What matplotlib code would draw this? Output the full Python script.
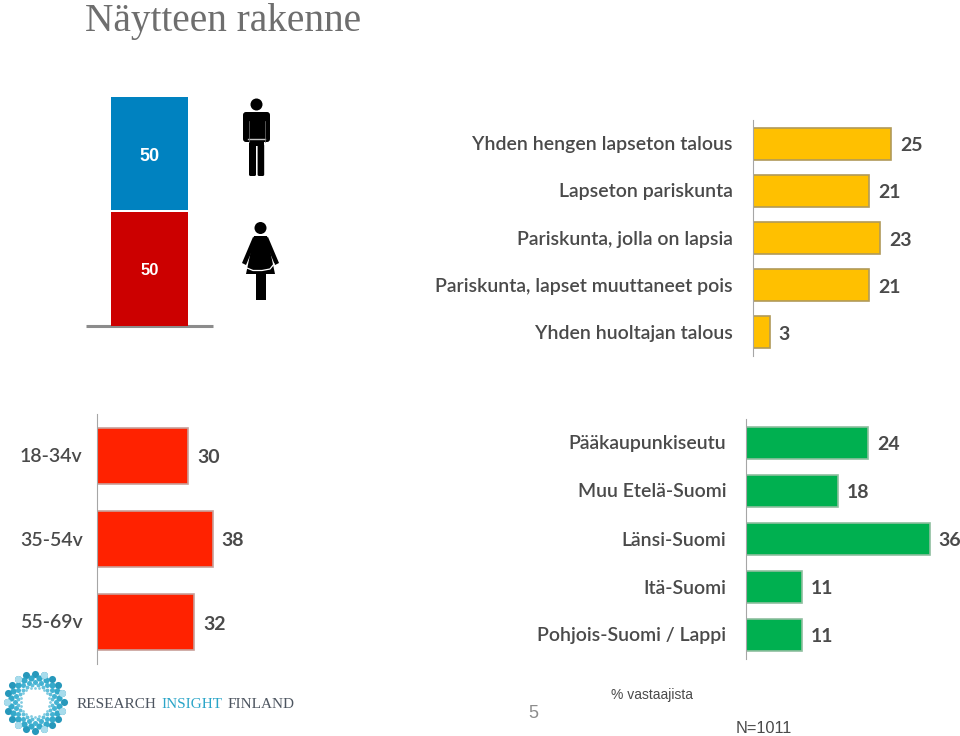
#!/usr/bin/python3
# -*- coding: utf-8 -*-
import numpy as np
import matplotlib
matplotlib.use('Agg')
import matplotlib.pyplot as plt
from matplotlib.patches import Circle, FancyBboxPatch, Polygon, Rectangle

gender_labels = ['Mies', 'Nainen']
gender_values = [50, 50]

household_labels = ['Yhden hengen lapseton talous', 'Lapseton pariskunta', 'Pariskunta, jolla on lapsia',
                    'Pariskunta, lapset muuttaneet pois', 'Yhden huoltajan talous']
household_values = [25, 21, 23, 21, 3]

age_labels = ['18-34v', '35-54v', '55-69v']
age_values = [30, 38, 32]

region_labels = ['Pääkaupunkiseutu', 'Muu Etelä-Suomi', 'Länsi-Suomi', 'Itä-Suomi', 'Pohjois-Suomi / Lappi']
region_values = [24, 18, 36, 11, 11]

W, H = 960, 736
TXT = '#4a4a4a'
FONT = 'Lato'

fig = plt.figure(figsize=(W/100, H/100), dpi=100)

def pixel_axes(x0, y0, x1, y1):
    # box given in picture pixels, y going down
    ax = fig.add_axes([x0/W, 1-y1/H, (x1-x0)/W, (y1-y0)/H])
    ax.patch.set_alpha(0)
    return ax

# overlay for everything that is not a chart
bg = pixel_axes(0, 0, W, H)
bg.set_xlim(0, W)
bg.set_ylim(H, 0)
bg.axis('off')

def hbar_panel(box, xmax, values, labels, color, edge, height, fs=14):
    ax = pixel_axes(*box)
    pos = np.arange(len(values))
    ax.barh(pos, values, height=height, color=color, edgecolor=edge, linewidth=1.2)
    ax.set_xlim(0, xmax)
    ax.set_ylim(len(values)-0.5, -0.5)
    for s in ['top', 'right', 'bottom']:
        ax.spines[s].set_visible(False)
    ax.spines['left'].set_color('#a6a6a6')
    ax.set_xticks([])
    ax.set_yticks([])
    for i, v in enumerate(values):
        ax.annotate(str(v), (v, i), xytext=(9, -2), textcoords='offset pixels', va='center', ha='left',
                    fontsize=fs, fontweight='bold', color=TXT, family=FONT)
    for i, lab in enumerate(labels):
        ax.annotate(lab, (0, i), xytext=(-20, -1), textcoords='offset pixels', va='center', ha='right',
                    fontsize=fs, fontweight='semibold', color=TXT, family=FONT, annotation_clip=False)
    return ax

# households: 47.2 px per row, 5.52 px per unit
hbar_panel((753, 120, 753+5.52*30, 356), 30, household_values, household_labels, '#ffc000', '#b09a5a', 0.68)
# age groups: 83.5 px per row, 3.04 px per unit
hbar_panel((97, 414, 97+3.04*40, 664), 40, age_values, [], '#ff2200', '#c8a09a', 0.67)
for lab, y in zip(age_labels, [455, 539, 622]):
    bg.text(20, y + 1, lab, va='center', ha='left', fontsize=14, fontweight='semibold', color=TXT, family=FONT)
# regions: 48 px per row
hbar_panel((746, 419, 746+5.1*42, 659), 42, region_values, region_labels, '#00b050', '#8fbf9f', 0.667)

# gender stacked column
gender = pixel_axes(111, 97, 188, 326)
gender.bar(0, gender_values[1], width=1, color='#cc0000')
gender.bar(0, gender_values[0]-0.8, bottom=gender_values[1]+0.8, width=1, color='#0082c0')
gender.set_xlim(-0.5, 0.5)
gender.set_ylim(0, 100)
gender.axis('off')
gender.text(0, 74.2, str(gender_values[0]), color='white', ha='center', va='center', fontsize=13,
            fontweight='bold', family='Liberation Sans')
gender.text(0, 24.2, str(gender_values[1]), color='white', ha='center', va='center', fontsize=12,
            fontweight='bold', family='Liberation Sans')
bg.plot([86, 213], [326, 326], color='#8c8c8c', lw=2.2, solid_capstyle='butt')

# man icon
bg.add_patch(Circle((256.5, 104.5), 6, color='black', lw=0))
bg.add_patch(FancyBboxPatch((243, 112), 27, 30, boxstyle='round,pad=0,rounding_size=3', color='black', lw=0))
bg.add_patch(Rectangle((249, 140), 15, 6, color='black', lw=0))
bg.add_patch(FancyBboxPatch((249, 144), 7, 32, boxstyle='round,pad=0,rounding_size=1.5', color='black', lw=0))
bg.add_patch(FancyBboxPatch((257.6, 144), 6.6, 32, boxstyle='round,pad=0,rounding_size=1.5', color='black', lw=0))
bg.plot([248, 265], [138.5, 138.5], color='#c4c4c4', lw=1)
bg.plot([248.5, 248.5], [121, 142], color='#777777', lw=0.5)
bg.plot([264.5, 264.5], [121, 142], color='#777777', lw=0.5)

# woman icon
bg.add_patch(Circle((260.5, 228), 6, color='black', lw=0))
bg.add_patch(Polygon([[254, 236], [267, 236], [275, 274], [246, 274]], closed=True, color='black', lw=0))
bg.add_patch(Polygon([[253, 237], [257, 239], [246, 265], [242, 263]], closed=True, color='black', lw=0))
bg.add_patch(Polygon([[268, 237], [264, 239], [275, 265], [279, 263]], closed=True, color='black', lw=0))
bg.add_patch(Rectangle((255.5, 272), 10, 27.5, color='black', lw=0))
bg.plot([247, 253, 262, 270, 274], [268, 270.5, 270.5, 269, 264], color='white', lw=0.9)

# title
bg.text(85, 21, 'Näytteen rakenne', fontsize=28.4, color='#6e6e6e', va='center', ha='left', family='Liberation Serif')

# logo, dot rings around one centre
cx, cy = 35, 702
radii = [28.5, 24.5, 20.5, 17, 14.5]
sizes = [26, 20, 13, 8, 4]
colors = ['#1b93b8', '#2aa5c8', '#3aaed0', '#58bcd8', '#7cc9e0']
for k, (r, s, c) in enumerate(zip(radii, sizes, colors)):
    ang = np.deg2rad(np.arange(0, 360, 18) + k*9)
    bg.scatter(cx + r*np.cos(ang), cy + r*np.sin(ang), s=s, color=c, lw=0, alpha=0.95)
ang = np.deg2rad(np.arange(0, 360, 54) + 18)
bg.scatter(cx + 28.5*np.cos(ang), cy + 28.5*np.sin(ang), s=26, color='#a8dcec', lw=0)

lx = 77
for part, col in [('RESEARCH', '#4d5560'), ('INSIGHT', '#2aa5c8'), ('FINLAND', '#4d5560')]:
    t = bg.text(lx, 704, part, fontsize=11, color=col, va='center', ha='left', family='Liberation Serif')
    bb = t.get_window_extent(fig.canvas.get_renderer())
    lx += bb.width + 5

# footer
bg.text(533, 714, '5', fontsize=13, color='#8c8c8c', ha='center', va='center', family='Liberation Sans')
bg.text(611, 695.5, '% vastaajista', fontsize=10, color=TXT, ha='left', va='center', family='Liberation Sans')
bg.text(736, 728.5, 'N=1011', fontsize=11.8, color=TXT, ha='left', va='center', family='Liberation Sans')

plt.savefig('out.png', dpi=100)
